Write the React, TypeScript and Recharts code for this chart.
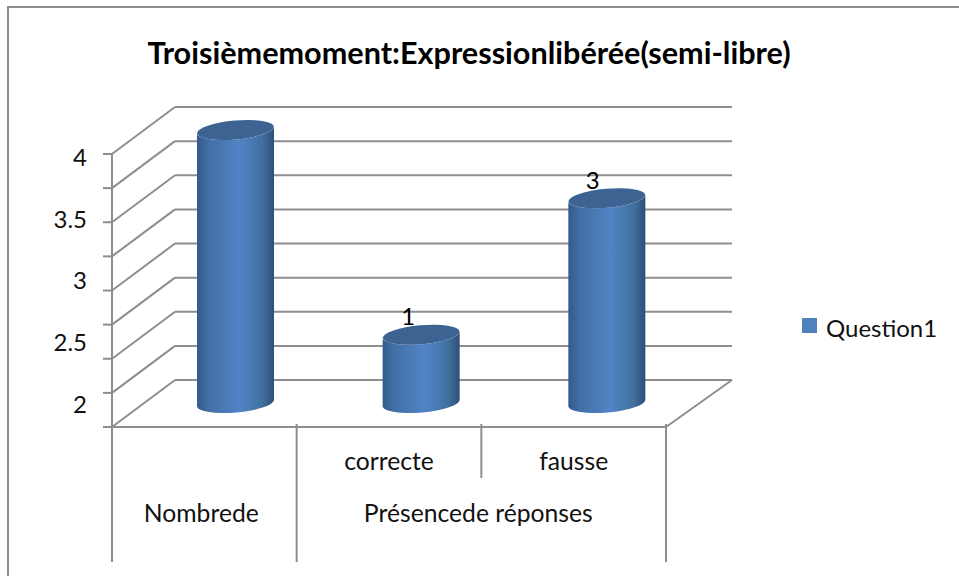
import React from "react";
import { BarChart, Bar, XAxis, YAxis, CartesianGrid, LabelList, Legend } from "recharts";

const categories = ["blank", "correcte", "fausse"];
const tierOne = ["", "correcte", "fausse"];
const tierTwo = ["Nombrede", "Présencede réponses", ""];
const values = [4, 1, 3];
const shownLabels = ["", "1", "3"];
const gridTicks = [0, 0.5, 1, 1.5, 2, 2.5, 3, 3.5, 4];
const printedTicks = [2, 2.5, 3, 3.5, 4];
const seriesName = "Question1";
const titleText = "Troisièmemoment:Expressionlibérée(semi-libre)";

const rows = categories.map((c, i) => ({ c, v: values[i], shown: shownLabels[i] }));

const LINE = "#8e8e8e";
const LW = 2;
const FONT = "Lato, Carlito, sans-serif";
const W = 959;
const H = 576;
const PLOT_L = 112;
const PLOT_R = 666;
const HALF_BAND = (PLOT_R - PLOT_L) / categories.length / 2;
const DEPTH_X = 31;
const DEPTH_Y = -24;

function Cylinder(props: any) {
  const { x, y, width, height, index } = props;
  const cx = x + width / 2 + DEPTH_X + index;
  const top = y + DEPTH_Y;
  const bottom = y + height + DEPTH_Y;
  const rx = width / 2;
  const ry = 9.5;
  const tilt = 3.4;
  const id = `cyl-${index}`;
  const d = `M${cx - rx} ${top + tilt} L${cx - rx} ${bottom + tilt} A${rx} ${ry} -5 0 0 ${cx + rx} ${bottom - tilt} L${cx + rx} ${top - tilt} A${rx} ${ry} -5 0 1 ${cx - rx} ${top + tilt} Z`;
  return (
    <g>
      <defs>
        <linearGradient id={id} x1="0" x2="1" y1="0" y2="0">
          <stop offset="0" stopColor="#33598a" />
          <stop offset="0.14" stopColor="#426fa4" />
          <stop offset="0.55" stopColor="#5084c6" />
          <stop offset="0.85" stopColor="#41709f" />
          <stop offset="1" stopColor="#2d4e78" />
        </linearGradient>
      </defs>
      <path d={d} fill={`url(#${id})`} />
      <ellipse cx={cx} cy={top} rx={rx} ry={ry} fill="#3c6391" transform={`rotate(-5 ${cx} ${top})`} />
    </g>
  );
}

function WallLine(props: any) {
  const { x1, x2, y1 } = props;
  const isFloor = Math.abs(y1 - 427) < 1;
  return (
    <g>
      <line x1={x1} y1={y1} x2={x1 + 63} y2={y1 - 47} stroke={LINE} strokeWidth={LW} />
      <line x1={x1 + 63} y1={y1 - 47} x2={x2 + 66} y2={y1 - 47} stroke={LINE} strokeWidth={LW} />
      {isFloor ? <line x1={x2} y1={y1} x2={x2 + 66} y2={y1 - 47} stroke={LINE} strokeWidth={LW} /> : null}
    </g>
  );
}

function CategoryTick(props: any) {
  const { x, y, index } = props;
  const left = x - HALF_BAND;
  const right = x + HALF_BAND;
  const tall = y + 135;
  const groupX = index === 1 ? right - 3 : x - 3;
  return (
    <g>
      <line x1={left} y1={y - 3} x2={left} y2={index === 2 ? y + 51 : tall} stroke={LINE} strokeWidth={LW} />
      {index === 2 ? <line x1={right} y1={y - 3} x2={right} y2={tall} stroke={LINE} strokeWidth={LW} /> : null}
      <text x={x} y={y + 33} textAnchor="middle" dominantBaseline="central" fontSize={24.7} fontFamily={FONT} fill="#111">
        {tierOne[index]}
      </text>
      <text x={groupX} y={y + 85} textAnchor="middle" dominantBaseline="central" fontSize={24.7} fontFamily={FONT} fill="#111">
        {tierTwo[index]}
      </text>
    </g>
  );
}

function ValueLabel(props: any) {
  const { x, y, width, value } = props;
  if (!value) return null;
  return (
    <text x={x + width / 2 + 19} y={y - 43} textAnchor="middle" dominantBaseline="central" fontSize={24} fontFamily={FONT} fill="#000">
      {value}
    </text>
  );
}

const EmptyTick = () => <g />;

export default function App() {
  return (
    <div style={{ position: "absolute", left: 0, top: 0, width: W, height: H, overflow: "hidden", background: "#fff" }}>
      <div style={{ position: "absolute", left: 7, top: 6, width: W, height: H, borderTop: `2px solid ${LINE}`, borderLeft: `2px solid ${LINE}` }} />
      <div
        style={{
          position: "absolute",
          left: 0,
          width: 938,
          top: 34,
          textAlign: "center",
          fontFamily: FONT,
          fontWeight: 700,
          fontSize: 30.6,
          lineHeight: "38px",
          color: "#000",
          whiteSpace: "nowrap",
        }}
      >
        {titleText}
      </div>
      <div style={{ position: "absolute", left: 0, top: 0 }}>
        <BarChart
          width={W}
          height={H}
          data={rows}
          margin={{ top: 154, right: W - PLOT_R, bottom: 19, left: 47 }}
          barSize={77}
        >
          <CartesianGrid
            yAxisId="main"
            vertical={false}
            stroke={LINE}
            horizontal={(p: any) => <WallLine key={p.key ?? p.y1} {...p} />}
          />
          <XAxis
            dataKey="c"
            height={130}
            interval={0}
            tickLine={false}
            tickSize={0}
            tickMargin={0}
            axisLine={{ stroke: LINE, strokeWidth: LW }}
            tick={(p: any) => <CategoryTick {...p} />}
          />
          <YAxis
            yAxisId="main"
            width={25}
            domain={[0, 4]}
            ticks={gridTicks}
            interval={0}
            tick={EmptyTick}
            tickSize={9}
            tickLine={{ stroke: LINE, strokeWidth: LW }}
            axisLine={{ stroke: LINE, strokeWidth: LW }}
          />
          <YAxis
            yAxisId="printed"
            width={40}
            domain={[1.798, 4]}
            ticks={printedTicks}
            interval={0}
            tickLine={false}
            axisLine={false}
            tickSize={0}
            tickMargin={0}
            allowDataOverflow
            tick={{ fontSize: 24, fontFamily: FONT, fill: "#111", dy: 3 }}
          />
          <Legend
            layout="vertical"
            align="center"
            verticalAlign="middle"
            iconType="square"
            iconSize={15}
            wrapperStyle={{ position: "absolute", left: 802, top: 308, width: 150, fontFamily: FONT, fontSize: 24 }}
            formatter={(v: any) => <span style={{ color: "#111", position: "relative", top: 5, left: 5 }}>{v}</span>}
          />
          <Bar yAxisId="main" dataKey="v" name={seriesName} fill="#4F81BD" isAnimationActive={false} shape={(p: any) => <Cylinder {...p} />}>
            <LabelList dataKey="shown" content={(p: any) => <ValueLabel {...p} />} />
          </Bar>
        </BarChart>
      </div>
    </div>
  );
}
